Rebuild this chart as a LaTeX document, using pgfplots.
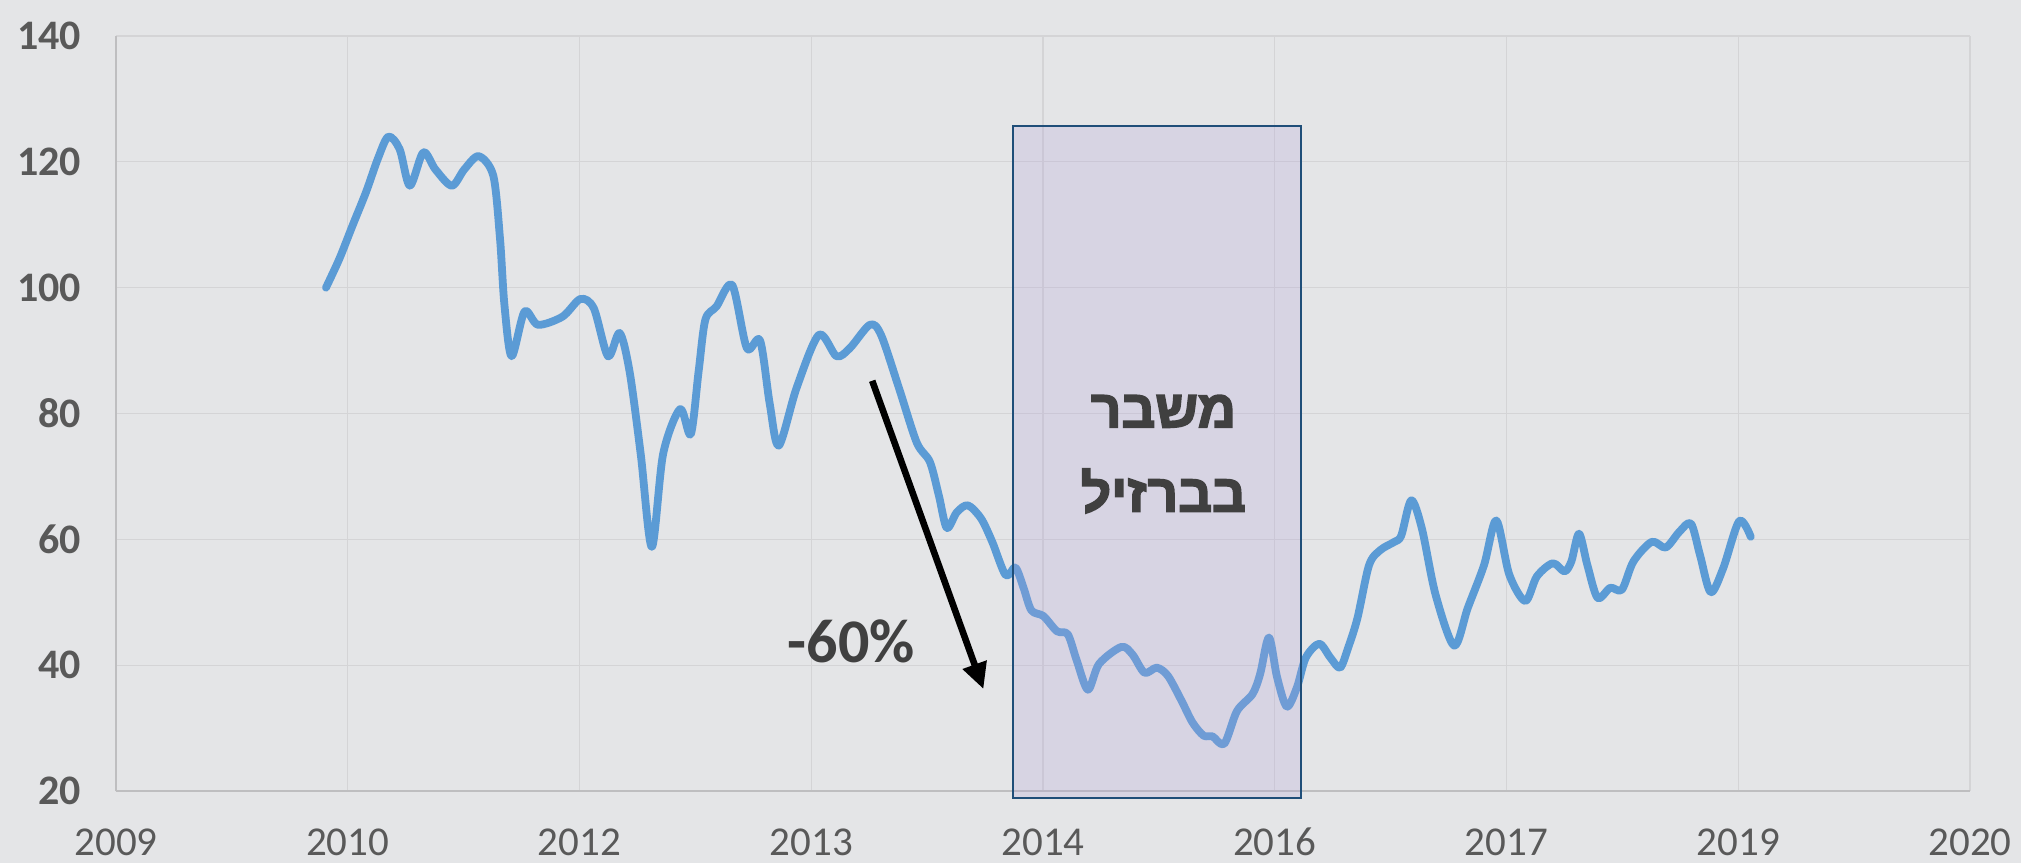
\documentclass[border=0pt]{standalone}
\usepackage{fontspec}
\setmainfont{Carlito}
\newfontfamily\hebfont[Script=Hebrew, FakeBold=3]{Liberation Sans Bold}
\usepackage{pgfplots}
\pgfplotsset{compat=1.18}
\usetikzlibrary{arrows.meta}
\TeXXeTstate=1
\definecolor{bg}{RGB}{228,229,231}
\definecolor{gridc}{RGB}{212,212,214}
\definecolor{axc}{RGB}{190,190,192}
\definecolor{linec}{RGB}{91,155,213}
\definecolor{tickc}{RGB}{89,89,89}
\definecolor{txtc}{RGB}{64,64,64}
\definecolor{boxfill}{RGB}{175,160,215}
\definecolor{boxedge}{RGB}{31,78,121}
\begin{document}
\begin{tikzpicture}
\path[use as bounding box, fill=bg] (-58bp,-36bp) rectangle (952.5bp,395.5bp);
\begin{axis}[
  at={(0,0)}, anchor=south west, scale only axis,
  width=927bp, height=377.5bp,
  xmin=0, xmax=8, ymin=20, ymax=140,
  xtick={0,...,8},
  xticklabels={2009,2010,2012,2013,2014,2016,2017,2019,2020},
  ytick={20,40,...,140},
  grid=major, major grid style={gridc, line width=0.6bp},
  axis lines=left, axis line style={axc, line width=0.8bp, -},
  major tick length=0pt,
  /pgf/number format/assume math mode=true,
  tick label style={tickc},
  xticklabel style={font=\fontsize{20.5bp}{24bp}\selectfont, anchor=base, yshift=-32bp},
  yticklabel style={font=\bfseries\fontsize{21bp}{24bp}\selectfont, anchor=east, xshift=-14bp},
  clip=false,
]
\addplot[linec, line width=3.9bp, line cap=round, line join=round, smooth, tension=0.5] coordinates {
(0.906,100) (0.964,104.6) (1.021,109.9) (1.079,115.2) (1.130,120.5) (1.175,124.0)
(1.224,122.0) (1.268,116.2) (1.326,121.5) (1.378,118.8) (1.449,116.2) (1.503,118.8)
(1.565,120.9) (1.628,117.8) (1.657,107.8) (1.676,97.3) (1.707,89.1) (1.763,96.2)
(1.821,94.1) (1.927,95.4) (2.004,98.2) (2.062,96.7) (2.123,89.1) (2.173,92.8)
(2.216,86.7) (2.264,73.6) (2.312,58.8) (2.361,73.6) (2.434,80.7) (2.480,76.7)
(2.514,86.7) (2.543,94.9) (2.591,97.0) (2.659,100.4) (2.722,90.4) (2.779,91.6)
(2.821,81.5) (2.860,74.9) (2.937,84.1) (3.033,92.5) (3.109,89.1) (3.167,90.4)
(3.253,94.1) (3.301,92.5) (3.378,84.1) (3.455,75.4) (3.512,72.3) (3.551,66.9)
(3.585,61.8) (3.628,64.3) (3.676,65.4) (3.733,63.3) (3.781,59.6) (3.839,54.3)
(3.881,55.5) (3.916,52.3) (3.950,48.7) (4.002,47.8) (4.060,45.4) (4.107,44.9)
(4.146,40.7) (4.194,36.1) (4.242,40.2) (4.338,42.9) (4.386,41.7) (4.438,38.8)
(4.491,39.6) (4.539,38.3) (4.597,34.4) (4.645,30.9) (4.693,28.8) (4.731,28.7)
(4.782,27.5) (4.837,32.7) (4.904,35.4) (4.937,38.6) (4.975,44.4) (5.010,38.1)
(5.052,33.4) (5.096,36.5) (5.134,41.2) (5.192,43.4) (5.240,41.2) (5.282,39.6)
(5.317,42.8) (5.357,47.5) (5.407,55.9) (5.456,58.3) (5.516,59.6) (5.546,60.6)
(5.589,66.2) (5.635,61.7) (5.694,51.2) (5.774,43.1) (5.833,49.1) (5.903,55.9)
(5.956,63.0) (6.012,54.4) (6.081,50.2) (6.131,54.1) (6.200,56.2) (6.250,54.9)
(6.280,56.5) (6.313,60.9) (6.349,55.9) (6.393,50.7) (6.448,52.3) (6.498,52.0)
(6.548,56.5) (6.627,59.6) (6.687,58.7) (6.746,61.2) (6.796,62.5) (6.835,57.5)
(6.881,51.6) (6.935,55.4) (7.004,62.9) (7.054,60.4)
};
\draw[boxedge, line width=1.3bp, fill=boxfill, fill opacity=0.24] (axis cs:3.87,18.9) rectangle (axis cs:5.113,125.7);
\draw[black, line width=3.3bp, -{Triangle[length=13bp,width=12bp]}] (axis cs:3.263,85.2) -- (axis cs:3.743,36.2);
\node[txtc, anchor=base, font=\hebfont\fontsize{26.5bp}{30bp}\selectfont] at (axis cs:4.52,77.8) {\beginR משבר\endR};
\node[txtc, anchor=base, font=\hebfont\fontsize{26.5bp}{30bp}\selectfont] at (axis cs:4.52,64.4) {\beginR בברזיל\endR};
\node[txtc, anchor=base, font=\bfseries\fontsize{31bp}{34bp}\selectfont] at (axis cs:3.173,40.4) {-60\%};
\end{axis}
\end{tikzpicture}
\end{document}
